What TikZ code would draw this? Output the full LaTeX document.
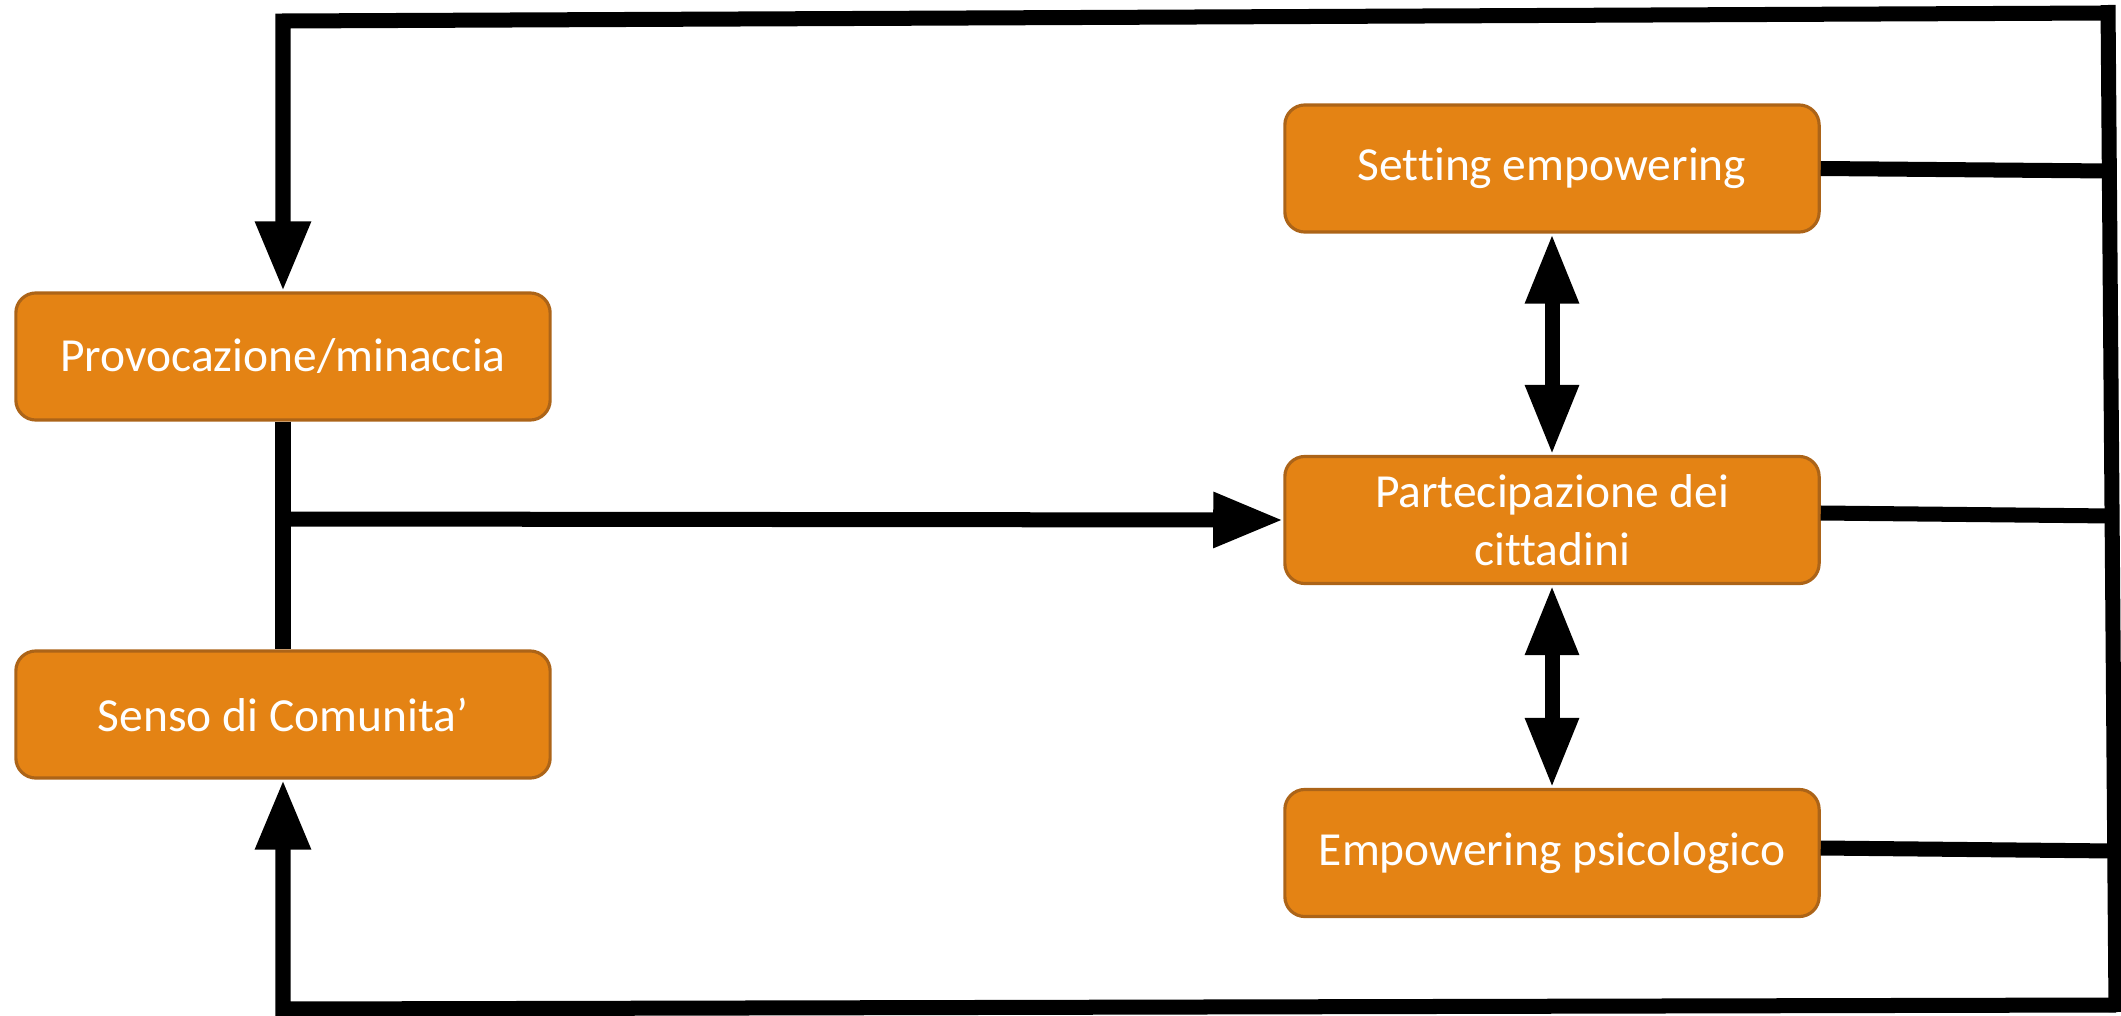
\documentclass[tikz,border=0pt]{standalone}
\usepackage{fontspec}
\setmainfont[Ligatures=NoCommon]{Carlito}
\usetikzlibrary{arrows.meta}

\definecolor{boxfill}{RGB}{228,131,20}
\definecolor{boxline}{RGB}{172,100,24}

\tikzset{
  stepbox/.style={draw=boxline, line width=0.9pt, fill=boxfill, rounded corners=0.2cm,
    minimum width=5.34cm, minimum height=1.27cm, inner sep=0pt,
    text=white, font=\fontsize{13.5}{16.5}\selectfont, align=center},
  conn/.style={line width=0.15cm, draw=black, line join=miter},
  tip/.style={-{Triangle[length=0.7cm,width=0.52cm]}},
  bitip/.style={{Triangle[length=0.7cm,width=0.5cm]}-{Triangle[length=0.7cm,width=0.5cm]}}
}

\begin{document}
\begin{tikzpicture}[x=0.01cm,y=-0.01cm]
  \useasboundingbox (0,0) rectangle (2121,1015);

  % boxes
  \node[stepbox] (prov)  at (283,356.5) {Provocazione/minaccia};
  \node[stepbox] (senso) at (283,714.5) {Senso di Comunita’};
  \node[stepbox] (sett)  at (1552,168.5) {Setting empowering};
  \node[stepbox] (part)  at (1552,520) {Partecipazione dei\\cittadini};
  \node[stepbox] (emp)   at (1552,853) {Empowering psicologico};

  % corners of the outer feedback loop
  \coordinate (tr) at (2108,5);
  \coordinate (trc) at (2108,13);
  \coordinate (br) at (2116,1012);
  \coordinate (brc) at (2116,1005);
  \coordinate (tl) at (283,21);
  \coordinate (bl) at (283,1009);
  \coordinate (junc) at (283,519);

  % ends of the feeder lines on the right vertical
  \coordinate (rs) at (2110,171);
  \coordinate (rp) at (2113,516);
  \coordinate (re) at (2115,851);

  % right vertical
  \draw[conn] (tr) -- (br);

  % feedback to the left boxes
  \draw[conn,tip] (trc) -- (tl) -- (prov.north);
  \draw[conn,tip] (brc) -- (bl) -- (senso.south);

  % left spine and branch to participation
  \draw[conn] (prov.south) -- (senso.north);
  \draw[conn,tip] (junc) -- (part.west);

  % mutual links between the right boxes
  \draw[conn,bitip] (sett.south) -- (part.north);
  \draw[conn,bitip] (part.south) -- (emp.north);

  % feeders into the right vertical
  \draw[conn] (sett.east) -- (rs);
  \draw[conn] ([yshift=0.07cm]part.east) -- (rp);
  \draw[conn] ([yshift=0.05cm]emp.east) -- (re);
\end{tikzpicture}
\end{document}
